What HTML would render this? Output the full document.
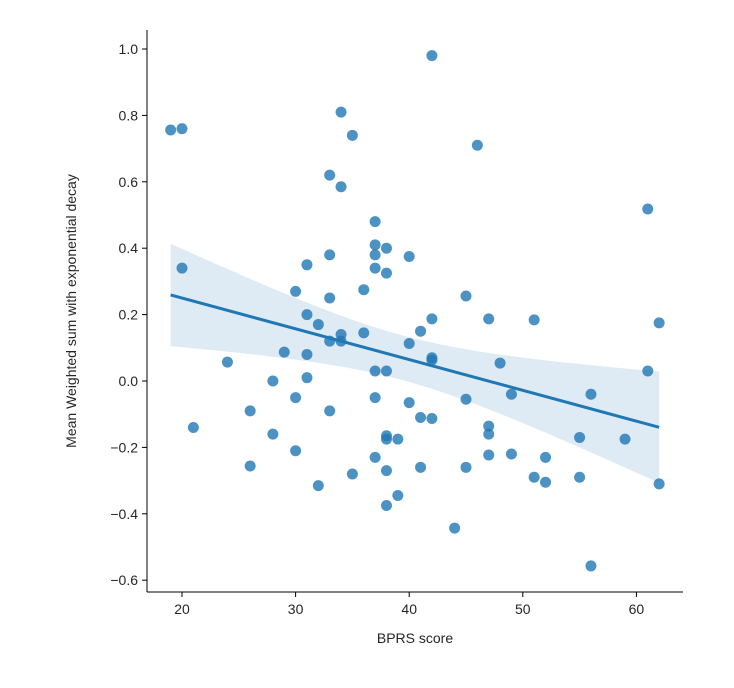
<!DOCTYPE html>
<html><head><meta charset="utf-8"><style>
body{margin:0;background:#fff;}
text{font-family:"Liberation Sans","DejaVu Sans",sans-serif;font-size:14px;fill:#262626;}
</style></head><body>
<svg id="chart" width="734" height="683" viewBox="0 0 734 683"></svg>
<script>
const xValues=[19,20,20,21,24,26,26,28,28,29,30,30,30,31,31,31,31,32,32,33,33,33,33,33,34,34,34,34,35,35,36,36,37,37,37,37,37,37,37,38,38,38,38,38,38,38,39,39,40,40,40,41,41,41,42,42,42,42,42,44,45,45,45,46,47,47,47,47,48,49,49,51,51,52,52,55,55,56,56,59,61,61,62,62];
const yValues=[0.756,0.76,0.34,-0.14,0.057,-0.09,-0.256,0.0,-0.16,0.087,0.27,-0.05,-0.21,0.35,0.2,0.08,0.01,0.17,-0.315,0.62,0.38,0.25,0.12,-0.09,0.81,0.585,0.14,0.12,0.74,-0.28,0.275,0.145,0.48,0.41,0.38,0.34,0.03,-0.05,-0.23,0.40,0.325,0.03,-0.165,-0.175,-0.27,-0.375,-0.175,-0.345,0.375,0.113,-0.065,0.15,-0.11,-0.26,0.98,0.187,0.07,0.063,-0.113,-0.443,0.256,-0.055,-0.26,0.71,0.187,-0.136,-0.16,-0.223,0.054,-0.04,-0.22,0.184,-0.29,-0.23,-0.305,-0.17,-0.29,-0.04,-0.557,-0.175,0.518,0.03,0.175,-0.31];
const xTicks=[20,30,40,50,60];
const yTicks=[-0.6,-0.4,-0.2,0.0,0.2,0.4,0.6,0.8,1.0];
const yTickLabels=["\u22120.6","\u22120.4","\u22120.2","0.0","0.2","0.4","0.6","0.8","1.0"];

const svg=document.getElementById('chart');
const NS='http://www.w3.org/2000/svg';
const X=v=>182+(v-20)*11.36;
const Y=v=>381-v*332;
function mk(t,a,p){const e=document.createElementNS(NS,t);for(const k in a)e.setAttribute(k,a[k]);(p||svg).appendChild(e);return e;}

// regression + CI
const n=xValues.length;
const mx=xValues.reduce((a,b)=>a+b,0)/n, my=yValues.reduce((a,b)=>a+b,0)/n;
let sxx=0,sxy=0;for(let i=0;i<n;i++){sxx+=(xValues[i]-mx)**2;sxy+=(xValues[i]-mx)*(yValues[i]-my);}
const b=sxy/sxx,a=my-b*mx;
let sse=0;for(let i=0;i<n;i++)sse+=(yValues[i]-a-b*xValues[i])**2;
const s=Math.sqrt(sse/(n-2));
const x0=Math.min(...xValues),x1=Math.max(...xValues);
const up=[],lo=[];
for(let k=0;k<=50;k++){const x=x0+(x1-x0)*k/50;const f=a+b*x;const se=s*Math.sqrt(1/n+(x-mx)**2/sxx)*1.99;up.push(X(x)+','+Y(f+se));lo.unshift(X(x)+','+Y(f-se));}
const band=mk('polygon',{points:up.concat(lo).join(' '),fill:'#1f77b4','fill-opacity':0.15});



// points
const g=mk('g',{});


for(let i=0;i<n;i++){const c=mk('circle',{cx:X(xValues[i]),cy:Y(yValues[i]),r:5.5,fill:'#1f77b4','fill-opacity':0.8},g);

}

const line=mk('line',{x1:X(x0),y1:Y(a+b*x0),x2:X(x1),y2:Y(a+b*x1),stroke:'#1f77b4','stroke-width':3});



// axes
const ax=mk('line',{x1:147,y1:30,x2:147,y2:592,stroke:'#000','stroke-width':1});


const bx=mk('line',{x1:147,y1:592,x2:683,y2:592,stroke:'#000','stroke-width':1});


xTicks.forEach(t=>{mk('line',{x1:X(t),y1:592,x2:X(t),y2:597,stroke:'#000'});
const tx=mk('text',{x:X(t),y:614,'text-anchor':'middle'});tx.textContent=t;

});
yTicks.forEach((t,i)=>{mk('line',{x1:142,y1:Y(t),x2:147,y2:Y(t),stroke:'#000'});
const tx=mk('text',{x:138,y:Y(t)+5,'text-anchor':'end'});tx.textContent=yTickLabels[i];

});
const xl=mk('text',{x:415,y:643,'text-anchor':'middle'});xl.textContent='BPRS score';


const yl=mk('text',{x:0,y:0,'text-anchor':'middle',transform:'translate(76,311) rotate(-90)'});yl.textContent='Mean Weighted sum with exponential decay';


</script>
</body></html>
